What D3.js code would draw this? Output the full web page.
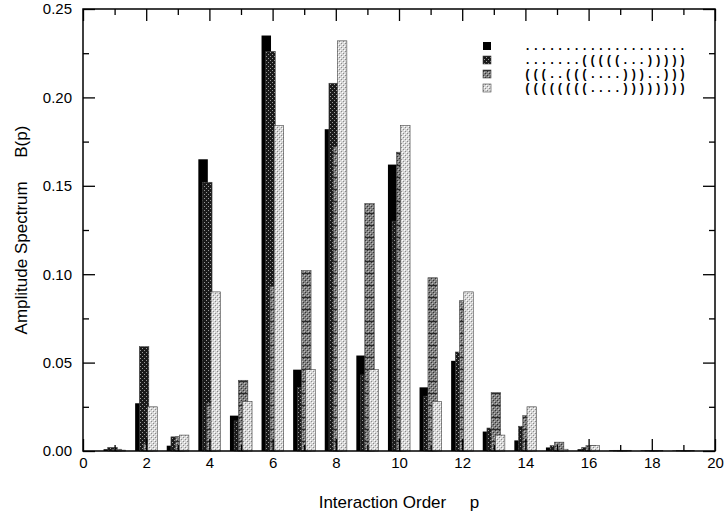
<!DOCTYPE html>
<html>
<head>
<meta charset="utf-8">
<script src="https://cdn.jsdelivr.net/npm/d3@7"></script>
<style>
  body { margin: 0; background: #fff; }
  text { font-family: "Liberation Sans", Arial, sans-serif; }
</style>
</head>
<body>
<div id="chart"></div>
<script>
// interaction orders p = 1..19
var orders = [1, 2, 3, 4, 5, 6, 7, 8, 9, 10, 11, 12, 13, 14, 15, 16, 17, 18, 19];

// legend labels (secondary structures)
var structures = [
  "....................",
  ".......(((((...)))))",
  "(((..(((....)))..)))",
  "((((((((....))))))))"
];

// B(p) for each structure
var openChain = [0.001, 0.027, 0.003, 0.165, 0.020, 0.235, 0.046, 0.182, 0.054, 0.162, 0.036, 0.051, 0.011, 0.006, 0.002, 0.001, 0.0004, 0.0003, 0.0002];
var hairpinA  = [0.002, 0.059, 0.008, 0.152, 0.017, 0.226, 0.036, 0.208, 0.043, 0.130, 0.031, 0.056, 0.013, 0.014, 0.003, 0.002, 0.0004, 0.0003, 0.0002];
var multiLoop = [0.001, 0.004, 0.008, 0.027, 0.040, 0.093, 0.102, 0.172, 0.140, 0.169, 0.098, 0.085, 0.033, 0.020, 0.005, 0.003, 0.0004, 0.0003, 0.0002];
var hairpinB  = [0.0005, 0.025, 0.009, 0.090, 0.028, 0.184, 0.046, 0.232, 0.046, 0.184, 0.028, 0.090, 0.009, 0.025, 0.001, 0.003, 0.0004, 0.0003, 0.0002];

var series = [openChain, hairpinA, multiLoop, hairpinB];
var fills = ["#000", "url(#pDark)", "url(#pMed)", "url(#pLight)"];

var margin = {top: 9, right: 9, bottom: 63, left: 83},
    width = 724 - margin.left - margin.right,
    height = 514 - margin.top - margin.bottom;

var svg = d3.select("#chart")
  .append("svg")
  .attr("width", 724)
  .attr("height", 514);

// fill patterns
var defs = svg.append("defs");
var pd = defs.append("pattern").attr("id", "pDark")
  .attr("patternUnits", "userSpaceOnUse").attr("width", 4).attr("height", 4);
pd.append("rect").attr("width", 4).attr("height", 4).attr("fill", "#1a1a1a");
pd.append("rect").attr("x", 1).attr("y", 1).attr("width", 1).attr("height", 1).attr("fill", "#9a9a9a");
pd.append("rect").attr("x", 3).attr("y", 3).attr("width", 1).attr("height", 1).attr("fill", "#9a9a9a");

var pm = defs.append("pattern").attr("id", "pMed")
  .attr("patternUnits", "userSpaceOnUse").attr("width", 4).attr("height", 12);
pm.append("rect").attr("width", 4).attr("height", 12).attr("fill", "#808080");
[[0, 1], [2, 3], [0, 5], [2, 7], [0, 9], [2, 11]].forEach(function(c) {
  pm.append("rect").attr("x", c[0]).attr("y", c[1]).attr("width", 1).attr("height", 1).attr("fill", "#333");
  pm.append("rect").attr("x", c[0] + 1).attr("y", c[1] + 1 > 11 ? 0 : c[1] + 1).attr("width", 1).attr("height", 1).attr("fill", "#c0c0c0");
});
pm.append("rect").attr("width", 4).attr("height", 1).attr("fill", "#2a2a2a");

var pl = defs.append("pattern").attr("id", "pLight")
  .attr("patternUnits", "userSpaceOnUse").attr("width", 4).attr("height", 4);
pl.append("rect").attr("width", 4).attr("height", 4).attr("fill", "#d8d8d8");
pl.append("rect").attr("x", 0).attr("y", 0).attr("width", 1).attr("height", 1).attr("fill", "#8a8a8a");
pl.append("rect").attr("x", 2).attr("y", 2).attr("width", 1).attr("height", 1).attr("fill", "#8a8a8a");
pl.append("rect").attr("x", 1).attr("y", 1).attr("width", 1).attr("height", 1).attr("fill", "#fff");
pl.append("rect").attr("x", 3).attr("y", 3).attr("width", 1).attr("height", 1).attr("fill", "#fff");

var chartGroup = svg.append("g")
  .attr("transform", `translate(${margin.left}, ${margin.top})`);

var x = d3.scaleLinear().domain([0, 20]).range([0, width]);
var y = d3.scaleLinear().domain([0, 0.25]).range([height, 0]);

// bars: four overlapping bars per order
var barW = 0.3, step = (0.7 - barW) / 3;
series.forEach(function(vals, si) {
  chartGroup.append("g").selectAll("rect")
    .data(orders)
    .enter()
    .append("rect")
    .attr("x", (d, i) => x(d - 0.35 + si * step))
    .attr("width", x(barW) - x(0))
    .attr("y", (d, i) => y(vals[i]))
    .attr("height", (d, i) => height - y(vals[i]))
    .attr("fill", fills[si])
    .attr("stroke", si === 0 ? "none" : "#444")
    .attr("stroke-width", 0.6);
});

// axes (ticks point inward, mirrored on top and right)
function styleAxis(g) {
  g.select(".domain").remove();
  g.selectAll("line").attr("stroke", "#000").attr("stroke-width", 1.3);
  g.selectAll("text").attr("font-size", 15).attr("fill", "#000");
}
var xMajor = d3.range(0, 21, 2), xMinor = d3.range(1, 20, 2);
var yMajor = d3.range(0, 0.2501, 0.05), yMinor = [0.025, 0.075, 0.125, 0.175, 0.225];

chartGroup.append("g").attr("transform", `translate(0, ${height})`)
  .call(d3.axisBottom(x).tickValues(xMajor).tickFormat(d3.format("d")).tickSize(-12).tickPadding(6))
  .call(styleAxis);
chartGroup.append("g").attr("transform", `translate(0, ${height})`)
  .call(d3.axisBottom(x).tickValues(xMinor).tickFormat("").tickSize(-6))
  .call(styleAxis);
chartGroup.append("g")
  .call(d3.axisTop(x).tickValues(xMajor).tickFormat("").tickSize(-12))
  .call(styleAxis);
chartGroup.append("g")
  .call(d3.axisTop(x).tickValues(xMinor).tickFormat("").tickSize(-6))
  .call(styleAxis);
chartGroup.append("g")
  .call(d3.axisLeft(y).tickValues(yMajor).tickFormat(d3.format(".2f")).tickSize(-12).tickPadding(11))
  .call(styleAxis);
chartGroup.append("g")
  .call(d3.axisLeft(y).tickValues(yMinor).tickFormat("").tickSize(-6))
  .call(styleAxis);
chartGroup.append("g").attr("transform", `translate(${width}, 0)`)
  .call(d3.axisRight(y).tickValues(yMajor).tickFormat("").tickSize(-12))
  .call(styleAxis);
chartGroup.append("g").attr("transform", `translate(${width}, 0)`)
  .call(d3.axisRight(y).tickValues(yMinor).tickFormat("").tickSize(-6))
  .call(styleAxis);

chartGroup.append("rect")
  .attr("width", width).attr("height", height)
  .attr("fill", "none").attr("stroke", "#000").attr("stroke-width", 1.5);

// legend
var legend = chartGroup.append("g").attr("transform", "translate(400, 37)");
structures.forEach(function(s, i) {
  legend.append("rect")
    .attr("x", 0).attr("y", i * 14 - 4)
    .attr("width", 8).attr("height", 8)
    .attr("fill", fills[i])
    .attr("stroke", i === 0 ? "none" : "#444").attr("stroke-width", 0.6);
  legend.append("text")
    .attr("x", 41).attr("y", i * 14 + 4)
    .attr("font-size", 12).attr("font-weight", "bold")
    .style("font-family", "'Liberation Mono', 'DejaVu Sans Mono', monospace")
    .attr("letter-spacing", 0.95)
    .text(s);
});

// axis titles
svg.append("text")
  .attr("x", margin.left + width / 2).attr("y", 508)
  .attr("text-anchor", "middle").attr("font-size", 17)
  .attr("xml:space", "preserve")
  .text("Interaction Order     p");
svg.append("text")
  .attr("transform", `translate(27, ${margin.top + height / 2}) rotate(-90)`)
  .attr("text-anchor", "middle").attr("font-size", 17)
  .attr("xml:space", "preserve")
  .text("Amplitude Spectrum     B(p)");
</script>
</body>
</html>
